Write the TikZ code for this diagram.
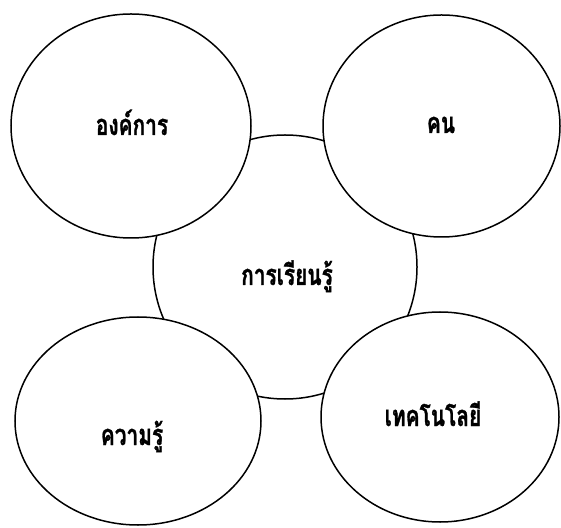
\documentclass[tikz,border=0pt]{standalone}
\usepackage{fontspec}
\newfontfamily\thaifont[Script=Thai,BoldFeatures={FakeBold=1.3}]{Loma}
\usetikzlibrary{shapes.geometric}
\newcommand{\thn}[1]{\scalebox{0.72}[1]{#1}}
\begin{document}
\begin{tikzpicture}[x=1pt,y=1pt,
  ring/.style={ellipse,draw=black,line width=1.5pt,fill=white,inner sep=0pt},
  lbl/.style={font=\thaifont\bfseries\fontsize{29}{33}\selectfont,inner sep=0pt,anchor=base}]
\useasboundingbox (0,0) rectangle (561,527);
\node[ring,minimum width=264pt,minimum height=264pt] (c) at (285,260) {};
\node[ring,minimum width=240pt,minimum height=224pt] (tl) at (131,401) {};
\node[ring,minimum width=237pt,minimum height=222pt] (tr) at (441.5,401) {};
\node[ring,minimum width=246pt,minimum height=208pt] (bl) at (138,106) {};
\node[ring,minimum width=238pt,minimum height=210pt] (br) at (440,110) {};
\node[lbl] (tct) at (287,242) {\thn{การเรียนรู้}};
\node[lbl] (ttl) at (132,392) {\thn{องค์การ}};
\node[lbl] (ttr) at (441,394) {\thn{คน}};
\node[lbl] (tbl) at (132,82) {\thn{ความรู้}};
\node[lbl] (tbr) at (433,101) {\thn{เทคโนโลยี}};
\end{tikzpicture}
\end{document}
